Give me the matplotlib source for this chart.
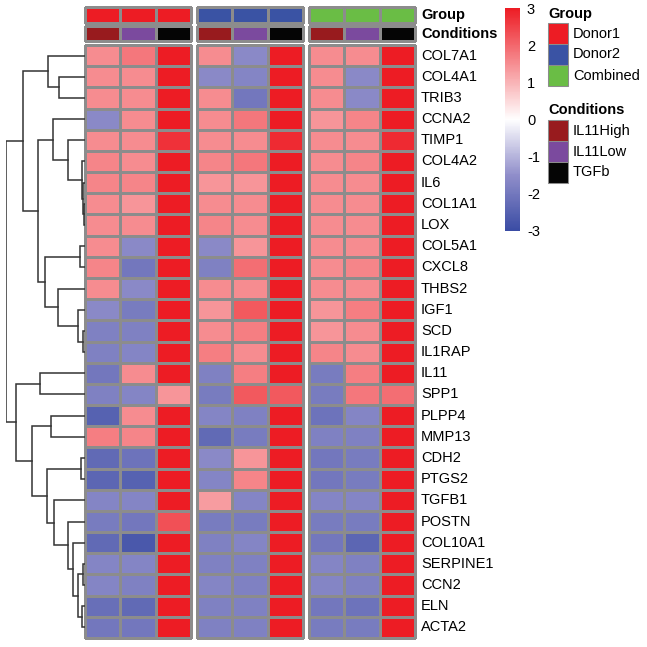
import numpy as np
import matplotlib
matplotlib.use("Agg")
import matplotlib.pyplot as plt
from matplotlib.colors import LinearSegmentedColormap, ListedColormap, Normalize
from matplotlib.cm import ScalarMappable

plt.rcParams["font.family"] = ["Liberation Sans", "DejaVu Sans"]
plt.rcParams["axes.unicode_minus"] = False

genes = ["COL7A1", "COL4A1", "TRIB3", "CCNA2", "TIMP1", "COL4A2", "IL6",
         "COL1A1", "LOX", "COL5A1", "CXCL8", "THBS2", "IGF1", "SCD", "IL1RAP",
         "IL11", "SPP1", "PLPP4", "MMP13", "CDH2", "PTGS2", "TGFB1", "POSTN",
         "COL10A1", "SERPINE1", "CCN2", "ELN", "ACTA2"]

# z-scores per sample (Donor1 / Donor2 / Combined x IL11High / IL11Low / TGFb)
d1_high = [1.5, 1.5, 1.5, -1.6, 1.5, 1.6, 1.6, 1.5, 1.5, 1.5, 1.6, 1.5, -1.6, -1.8,
           -1.8, -2.0, -1.8, -2.5, 1.7, -2.3, -2.4, -1.7, -1.9, -2.3, -1.7, -1.7, -2.2, -2.0]
d1_low = [1.8, 1.5, 1.5, 1.5, 1.5, 1.5, 1.6, 1.4, 1.5, -1.6, -2.0, -1.6, -1.9, -1.8,
          -1.7, 1.5, -1.7, 1.5, 1.6, -2.1, -2.5, -1.7, -2.0, -2.7, -1.7, -1.8, -2.3, -2.0]
d1_tgfb = [3, 3, 3, 3, 2.7, 3, 3, 3, 3, 3, 3, 3, 3, 3,
           3, 3, 1.4, 3, 3, 3, 3, 3, 2.3, 3, 3, 3, 3, 3]
d2_high = [1.5, -1.6, 1.5, 1.5, 1.5, 1.6, 1.4, 1.5, 1.6, -1.6, -1.8, 1.5, 1.4, 1.5,
           1.7, -1.8, -1.9, -1.7, -2.3, -1.6, -1.7, 1.3, -1.9, -1.8, -1.8, -1.7, -1.8, -1.8]
d2_low = [-1.6, -1.7, -2.0, 1.8, 1.5, 1.8, 1.4, 1.5, 1.5, 1.4, 1.9, 1.5, 2.2, 1.7,
          1.5, 1.7, 2.2, -1.8, -1.9, 1.4, 1.6, -1.7, -1.9, -1.7, -1.8, -1.8, -1.8, -1.8]
d2_tgfb = [3, 3, 3, 3, 2.8, 3, 3, 3, 3, 3, 3, 3, 3, 3,
           3, 3, 2.2, 3, 3, 3, 3, 3, 3, 3, 3, 3, 3, 3]
c_high = [1.5, 1.5, 1.5, 1.4, 1.5, 1.5, 1.5, 1.5, 1.5, 1.5, 1.5, 1.5, 1.4, 1.4,
          1.6, -1.9, -1.9, -2.1, -1.8, -2.0, -2.0, -1.7, -1.9, -2.0, -1.7, -1.7, -2.0, -1.9]
c_low = [1.5, -1.6, -1.6, 1.6, 1.5, 1.6, 1.5, 1.5, 1.5, 1.5, 1.6, 1.5, 1.7, 1.5,
         1.5, 1.7, 1.8, -1.7, -1.8, -1.9, -1.9, -1.7, -1.9, -2.4, -1.8, -1.8, -2.1, -1.9]
c_tgfb = [3, 3, 3, 3, 2.8, 3, 3, 3, 3, 3, 3, 3, 3, 3,
          3, 3, 1.9, 3, 3, 3, 3, 3, 3, 3, 3, 3, 3, 3]

groups = ["Donor1", "Donor2", "Combined"]
conditions = ["IL11High", "IL11Low", "TGFb"]
group_colors = ["#ED1C24", "#3A53A4", "#6ABD45"]
cond_colors = ["#981B1E", "#7B4A9E", "#050505"]

# row dendrogram: (child_a, child_b, height); leaves 0..27, clusters 28+
merges = [(1, 2, 3.25), (0, 28, 4.65), (7, 8, 0.09), (6, 30, 0.20), (5, 31, 0.42),
          (4, 32, 2.19), (3, 33, 4.09), (9, 10, 0.63), (13, 14, 0.29), (12, 36, 0.85),
          (11, 37, 3.38), (35, 38, 5.06), (34, 39, 5.91), (29, 40, 7.89), (15, 16, 5.70),
          (17, 18, 4.34), (19, 20, 0.51), (24, 25, 0.29), (26, 27, 0.42), (45, 46, 0.85),
          (23, 47, 1.56), (22, 48, 2.19), (21, 49, 3.92), (44, 50, 4.85), (43, 51, 6.75),
          (42, 52, 8.73), (41, 53, 10.0)]

W, H = 647, 647
fig = plt.figure(figsize=(W / 100, H / 100), dpi=100)


def px_axes(x0, y0, x1, y1):
    return fig.add_axes([x0 / W, 1 - y1 / H, (x1 - x0) / W, (y1 - y0) / H])


cmap = LinearSegmentedColormap.from_list(
    "bwr_ph", [(0.0, "#3A4CA4"), (0.25, "#908ECA"), (0.5, "#FFFFFF"), (1.0, "#ED1C24")])
norm = Normalize(-3, 3)
grid = "#8C8C8C"
lw_grid = 0.75

mat = np.array([d1_high, d1_low, d1_tgfb, d2_high, d2_low, d2_tgfb,
                c_high, c_low, c_tgfb]).T
n_rows = len(genes)

top, bottom = 45, 638
blocks = [(85, 191), (197, 303), (309, 415)]
for k, (x0, x1) in enumerate(blocks):
    ax = px_axes(x0, top, x1, bottom)
    m = ax.pcolormesh(mat[:, 3 * k:3 * k + 3], cmap=cmap, norm=norm,
                      edgecolors=grid, linewidth=lw_grid)
    m.set_clip_on(False)
    ax.set_xlim(0, 3)
    ax.set_ylim(n_rows, 0)
    ax.axis("off")

    axg = px_axes(x0, 7, x1, 23)
    mg = axg.pcolormesh(np.full((1, 3), k), cmap=ListedColormap(group_colors),
                        vmin=-0.5, vmax=2.5, edgecolors=grid, linewidth=lw_grid)
    mg.set_clip_on(False)
    axg.axis("off")

    axc = px_axes(x0, 26, x1, 41)
    mc = axc.pcolormesh(np.arange(3).reshape(1, 3), cmap=ListedColormap(cond_colors),
                        vmin=-0.5, vmax=2.5, edgecolors=grid, linewidth=lw_grid)
    mc.set_clip_on(False)
    axc.axis("off")

# row labels
row_h = (bottom - top) / n_rows
for i, g in enumerate(genes):
    fig.text(421 / W, 1 - (top + row_h * (i + 0.5)) / H, g,
             fontsize=10.5, va="center", ha="left")
fig.text(421 / W, 1 - 15.5 / H, "Group", fontsize=10.5, fontweight="bold", va="center")
fig.text(421 / W, 1 - 33.5 / H, "Conditions", fontsize=10.5, fontweight="bold", va="center")

# dendrogram
axd = px_axes(6, top, 85, bottom)
pos = {i: (0.0, i + 0.5) for i in range(n_rows)}
for j, (a, b, h) in enumerate(merges):
    ha, ya = pos[a]
    hb, yb = pos[b]
    axd.plot([ha, h, h, hb], [ya, ya, yb, yb], color="#333333", lw=1.1,
             solid_joinstyle="miter")
    pos[n_rows + j] = (h, (ya + yb) / 2)
axd.set_xlim(merges[-1][2], 0)
axd.set_ylim(n_rows, 0)
axd.axis("off")

# colorbar
axcb = px_axes(505, 8, 520, 231)
cb = fig.colorbar(ScalarMappable(norm=norm, cmap=cmap), cax=axcb, ticks=range(-3, 4))
cb.outline.set_visible(False)
axcb.tick_params(length=0, labelsize=10.5, pad=5)

# legends
def legend_block(title, labels, colors, y_title, y0):
    fig.text(548 / W, 1 - y_title / H, title, fontsize=10.5, fontweight="bold", va="center")
    box_h = 21
    for i, (lab, col) in enumerate(zip(labels, colors)):
        yb0 = y0 + i * box_h
        axl = px_axes(548, yb0, 568, yb0 + box_h)
        axl.add_patch(plt.Rectangle((0, 0), 1, 1, facecolor=col, edgecolor=grid,
                                    lw=lw_grid, clip_on=False))
        axl.axis("off")
        fig.text(573 / W, 1 - (yb0 + box_h / 2) / H, lab, fontsize=10.5, va="center")


legend_block("Group", groups, group_colors, 14, 23)
legend_block("Conditions", conditions, cond_colors, 109.5, 120)

fig.savefig("out.png", dpi=100)
